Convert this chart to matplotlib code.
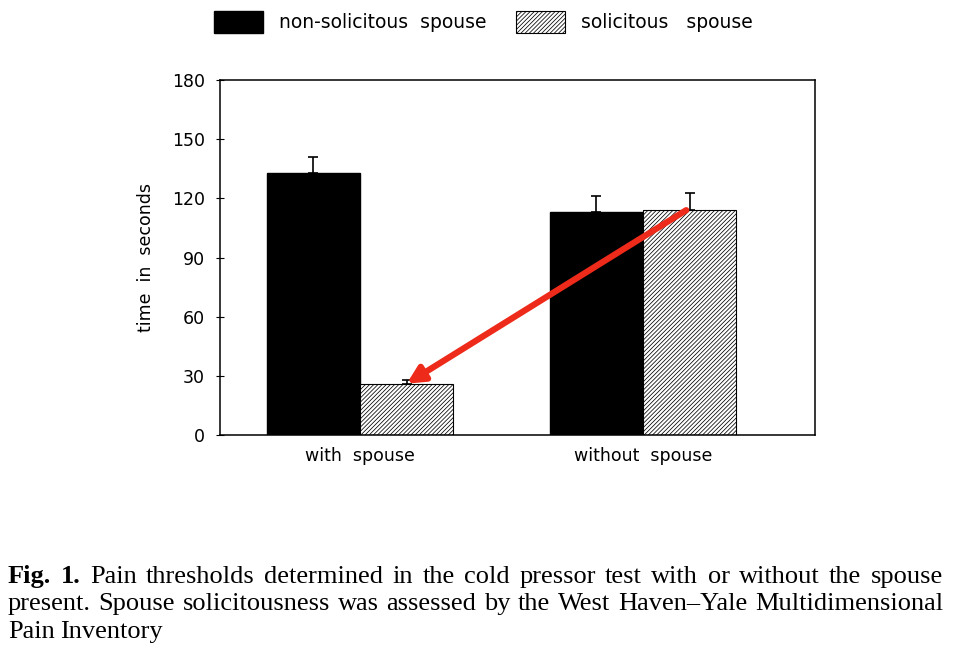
import matplotlib.pyplot as plt
import numpy as np

plt.rcParams["hatch.linewidth"] = 0.55

groups = ["with  spouse", "without  spouse"]
series = ["non-solicitous  spouse", "solicitous   spouse"]
non_solicitous = [133, 113]
solicitous = [26, 114]
non_solicitous_err = [8, 8]
solicitous_err = [2, 8.5]
yticks = [0, 30, 60, 90, 120, 150, 180]

caption = [
    "Fig. 1. Pain thresholds determined in the cold pressor test with or without the spouse",
    "present. Spouse solicitousness was assessed by the West Haven\u2013Yale Multidimensional",
    "Pain Inventory",
]

W, H = 959, 651
fig = plt.figure(figsize=(W / 100, H / 100), dpi=100)
ax = fig.add_axes([0.2294, 0.3318, 0.6204, 0.5453])

x = np.arange(len(groups))
w = 0.33
b1 = ax.bar(x - w / 2, non_solicitous, w, color="black", edgecolor="black",
            yerr=[[0, 0], non_solicitous_err], capsize=3.5,
            error_kw=dict(ecolor="black", elinewidth=1.2, capthick=1.2),
            label=series[0])
b2 = ax.bar(x + w / 2, solicitous, w, color="white", edgecolor="black",
            hatch="////////", linewidth=0.8,
            yerr=[[0, 0], solicitous_err], capsize=3.5,
            error_kw=dict(ecolor="black", elinewidth=1.2, capthick=1.2),
            label=series[1])

# red arrow from solicitous (without) down to solicitous (with)
ax.annotate("", xy=(x[0] + w / 2, solicitous[0]),
            xytext=(x[1] + w / 2 - 0.012, solicitous[1]),
            arrowprops=dict(arrowstyle="-|>,head_length=1.0,head_width=0.5",
                            color="#ee2a1b", lw=4.5, shrinkA=0, shrinkB=0))

ax.set_xlim(-0.495, 1.608)
ax.set_ylim(0, 180)
ax.set_yticks(yticks)
ax.set_xticks(x)
ax.set_xticklabels(groups, fontsize=12.5)
ax.tick_params(axis="x", length=0, pad=9)
ax.tick_params(axis="y", direction="inout", length=6, labelsize=12.5, pad=8)
ax.set_ylabel("time  in  seconds", fontsize=12.5, labelpad=12)
for s in ax.spines.values():
    s.set_linewidth(1.1)

fig.legend(handles=[b1, b2], labels=series, loc="center",
           bbox_to_anchor=(0.504, 1 - 22 / H), ncol=2, frameon=False,
           fontsize=13.5, handlelength=2.6, handleheight=1.5,
           columnspacing=1.6, handletextpad=0.85, borderpad=0)

# caption, justified word by word
renderer = fig.canvas.get_renderer()
cap_font = dict(fontsize=19, family="Liberation Serif", va="baseline")
x0, x1 = 8, 943
baselines = [583, 610, 638]
for i, line in enumerate(caption):
    words = line.split(" ")
    texts = []
    for j, word in enumerate(words):
        bold = (i == 0 and j < 2)
        t = fig.text(0, 1 - baselines[i] / H, word,
                     fontweight="bold" if bold else "normal", **cap_font)
        texts.append(t)
    widths = [t.get_window_extent(renderer).width for t in texts]
    if i < len(caption) - 1:
        gap = (x1 - x0 - sum(widths)) / (len(words) - 1)
    else:
        gap = 5
    pos = x0
    for t, wd in zip(texts, widths):
        t.set_x(pos / W)
        pos += wd + gap

fig.savefig("out.png", dpi=100)
